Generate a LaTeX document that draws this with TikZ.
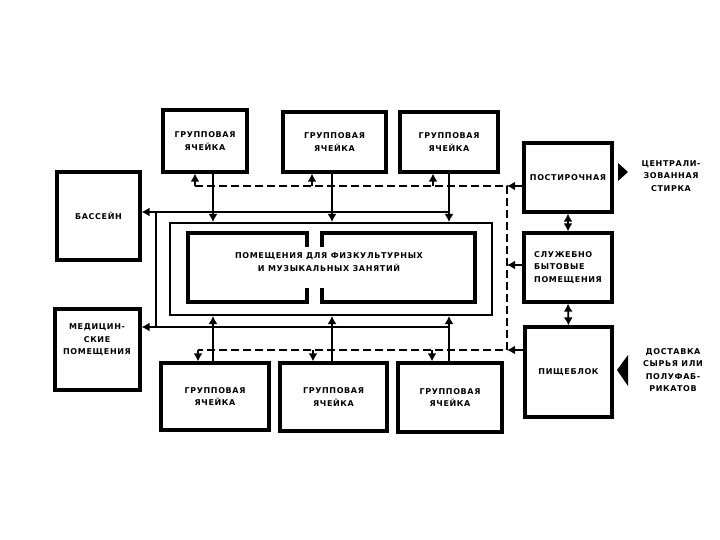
\documentclass[tikz,border=0pt]{standalone}
\usepackage{fontspec}
\newfontfamily\lblfont[LetterSpace=8]{DejaVu Sans}
\usetikzlibrary{arrows.meta}
\tikzset{
  lbl/.style={inner sep=0pt, align=center, font={\lblfont\bfseries\fontsize{8}{12.5}\selectfont}},
  box/.style={lbl, draw, line width=3.2pt},
  hallbox/.style={draw, line width=2pt, inner sep=0pt},
  inwall/.style={line width=3.8pt, line join=miter},
  tip/.style={-{Latex[length=8pt,width=9pt]}},
  conn/.style={line width=1.7pt, tip},
  dbl/.style={line width=1.7pt, {Latex[length=8pt,width=9pt]}-{Latex[length=8pt,width=9pt]}},
  thinline/.style={line width=1.5pt},
  dline/.style={line width=1.8pt, dash pattern=on 8pt off 4pt}
}
\begin{document}
\begin{tikzpicture}[x=1pt,y=-1pt]
\useasboundingbox[fill=white] (0,0) rectangle (720,540);

% top group cells
\node[box, minimum width=84pt, minimum height=62pt] (t1) at (205,141) {ГРУППОВАЯ\\ЯЧЕЙКА};
\node[box, minimum width=103pt, minimum height=60pt] (t2) at (334.5,142) {ГРУППОВАЯ\\ЯЧЕЙКА};
\node[box, minimum width=98pt, minimum height=60pt] (t3) at (449,142) {ГРУППОВАЯ\\ЯЧЕЙКА};
% bottom group cells
\node[box, minimum width=108pt, minimum height=67pt] (b1) at (215,396.5) {ГРУППОВАЯ\\ЯЧЕЙКА};
\node[box, minimum width=107pt, minimum height=68pt] (b2) at (333.5,397) {ГРУППОВАЯ\\ЯЧЕЙКА};
\node[box, minimum width=104pt, minimum height=69pt] (b3) at (450,397.5) {ГРУППОВАЯ\\ЯЧЕЙКА};
% left
\node[box, minimum width=83pt, minimum height=88pt] (pool) at (98.5,216) {БАССЕЙН};
\node[box, minimum width=85pt, minimum height=81pt] (med) at (97.5,349.5) {};
\node[lbl] (medtxt) at (97,340) {МЕДИЦИН-\\СКИЕ\\ПОМЕЩЕНИЯ};
% right
\node[box, minimum width=88pt, minimum height=69pt] (laundry) at (568,177.5) {ПОСТИРОЧНАЯ};
\node[box, align=left, minimum width=88pt, minimum height=69pt] (service) at (568,267.5) {СЛУЖЕБНО\\БЫТОВЫЕ\\ПОМЕЩЕНИЯ};
\node[box, minimum width=87pt, minimum height=90pt] (kitchen) at (568.5,372) {ПИЩЕБЛОК};
% central halls
\node[hallbox, minimum width=322pt, minimum height=92pt] (hall) at (331,269) {};
\draw[inwall] (307,247) -- (307,233) -- (188,233) -- (188,302) -- (307,302) -- (307,288);
\draw[inwall] (322,247) -- (322,233) -- (475,233) -- (475,302) -- (322,302) -- (322,288);
\node[lbl] (halltxt) at (329,262) {ПОМЕЩЕНИЯ ДЛЯ ФИЗКУЛЬТУРНЫХ\\И МУЗЫКАЛЬНЫХ ЗАНЯТИЙ};
% outside texts
\node[lbl] (washtxt) at (671,176) {ЦЕНТРАЛИ-\\ЗОВАННАЯ\\СТИРКА};
\node[lbl] (delivtxt) at (673,370) {ДОСТАВКА\\СЫРЬЯ ИЛИ\\ПОЛУФАБ-\\РИКАТОВ};

% coordinates
\coordinate (v1) at (213,0);
\coordinate (v2) at (332,0);
\coordinate (v3) at (449,0);
\coordinate (dT) at (195,186);
\coordinate (s2) at (312,186);
\coordinate (s3) at (433,186);
\coordinate (dTR) at (507,186);
\coordinate (dS) at (507,265);
\coordinate (dB) at (198,350);
\coordinate (u2) at (313,350);
\coordinate (u3) at (432,350);
\coordinate (dBR) at (507,350);
\coordinate (busT) at (449,212);
\coordinate (busTL) at (156,212);
\coordinate (busB) at (449,327);
\coordinate (busBL) at (156,327);

% solid verticals to halls
\draw[conn] (t1.south -| v1) -- (hall.north -| v1);
\draw[conn] (t2.south -| v2) -- (hall.north -| v2);
\draw[conn] (t3.south -| v3) -- (hall.north -| v3);
\draw[conn] (b1.north -| v1) -- (hall.south -| v1);
\draw[conn] (b2.north -| v2) -- (hall.south -| v2);
\draw[conn] (b3.north -| v3) -- (hall.south -| v3);

% thin buses to pool and medical
\draw[thinline, tip] (busT) -- (pool.east |- busT);
\draw[thinline] (busTL) -- (busBL);
\draw[thinline, tip] (busB) -- (med.east |- busB);

% dashed service lines
\draw[dline] (dT) -- (dTR) -- (dBR) -- (dB);
\draw[conn] (dT) -- (t1.south -| dT);
\draw[conn] (s2) -- (t2.south -| s2);
\draw[conn] (s3) -- (t3.south -| s3);
\draw[conn] (dB) -- (b1.north -| dB);
\draw[conn] (u2) -- (b2.north -| u2);
\draw[conn] (u3) -- (b3.north -| u3);
\draw[conn] (laundry.west |- dTR) -- (dTR);
\draw[conn] (service.west |- dS) -- (dS);
\draw[conn] (kitchen.west |- dBR) -- (dBR);

% right column links
\draw[dbl] (laundry.south) -- (service.north);
\draw[dbl] (service.south) -- (kitchen.north);

% outside arrows
\fill (618,163) -- (618,181) -- (628,172) -- cycle;
\fill (628,355) -- (628,386) -- (617,370) -- cycle;
\end{tikzpicture}
\end{document}
